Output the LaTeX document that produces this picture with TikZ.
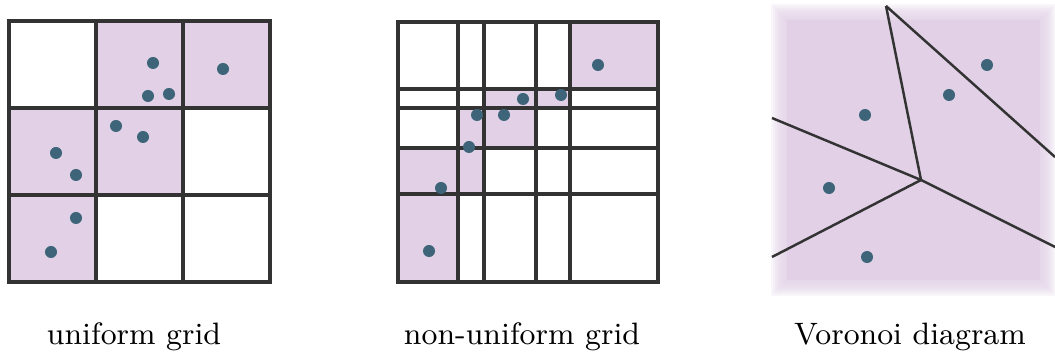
\documentclass[tikz,border=0pt]{standalone}
\usepackage{tikz}
\definecolor{cellpink}{HTML}{E1D0E6}
\definecolor{ptblue}{HTML}{3D6478}
\definecolor{gridgray}{HTML}{333333}

\begin{document}
\begin{tikzpicture}[x=0.01cm,y=-0.01cm,
cell/.style={fill=cellpink},
gridln/.style={draw=gridgray,line width=1pt,line cap=rect},
edge/.style={draw=gridgray,line width=0.7pt},
pt/.style={circle,fill=ptblue,inner sep=0pt,minimum size=0.12cm},
lbl/.style={anchor=base,font=\fontsize{8.8}{10}\selectfont}
]
\useasboundingbox (0,0) rectangle (1055,352);

% uniform grid
\fill[cell] (96,21) rectangle (270,108);
\fill[cell] (9,108) rectangle (183,195);
\fill[cell] (9,195) rectangle (96,282);
\foreach \x in {9,96,183,270}
  \draw[gridln] (\x,21) -- (\x,282);
\foreach \y in {21,108,195,282}
  \draw[gridln] (9,\y) -- (270,\y);
\foreach \p [count=\i] in {(153,63),(223,69),(148,96),(169,94),(116,126),
  (143,137),(56,153),(76,175),(76,218),(51,252)}
  \node[pt] (u\i) at \p {};

% non-uniform grid
\fill[cell] (570,22) rectangle (658,89);
\fill[cell] (484,89) rectangle (570,108);
\fill[cell] (458,108) rectangle (536,148);
\fill[cell] (398,148) rectangle (484,194);
\fill[cell] (398,194) rectangle (458,282);
\foreach \x in {398,458,484,536,570,658}
  \draw[gridln] (\x,22) -- (\x,282);
\foreach \y in {22,89,108,148,194,282}
  \draw[gridln] (398,\y) -- (658,\y);
\foreach \p [count=\i] in {(598,65),(523,99),(561,95),(477,115),(504,115),
  (469,147),(441,188),(429,251)}
  \node[pt] (n\i) at \p {};

% voronoi diagram, soft edged background
\fill[cellpink] (787,20) rectangle (1040,280);
\foreach \k in {1,...,8}
  \fill[cellpink,opacity=0.2] (787-2*\k,20-2*\k) rectangle (1040+2*\k,280+2*\k);
\coordinate (vc) at (921,180);
\coordinate (vt) at (886,6);
\coordinate (vr1) at (1055,157);
\coordinate (vr2) at (1055,247);
\coordinate (vl1) at (772,118);
\coordinate (vl2) at (772,257);
\draw[edge] (vt) -- (vc);
\draw[edge] (vt) -- (vr1);
\draw[edge] (vl1) -- (vc);
\draw[edge] (vl2) -- (vc);
\draw[edge] (vr2) -- (vc);
\foreach \p [count=\i] in {(987,65),(949,95),(865,115),(829,188),(867,257)}
  \node[pt] (v\i) at \p {};

% captions
\node[lbl] (lu) at (134,345) {uniform grid};
\node[lbl] (ln) at (522,345) {non-uniform grid};
\node[lbl] (lv) at (910,345) {Voronoi diagram};
\end{tikzpicture}
\end{document}
